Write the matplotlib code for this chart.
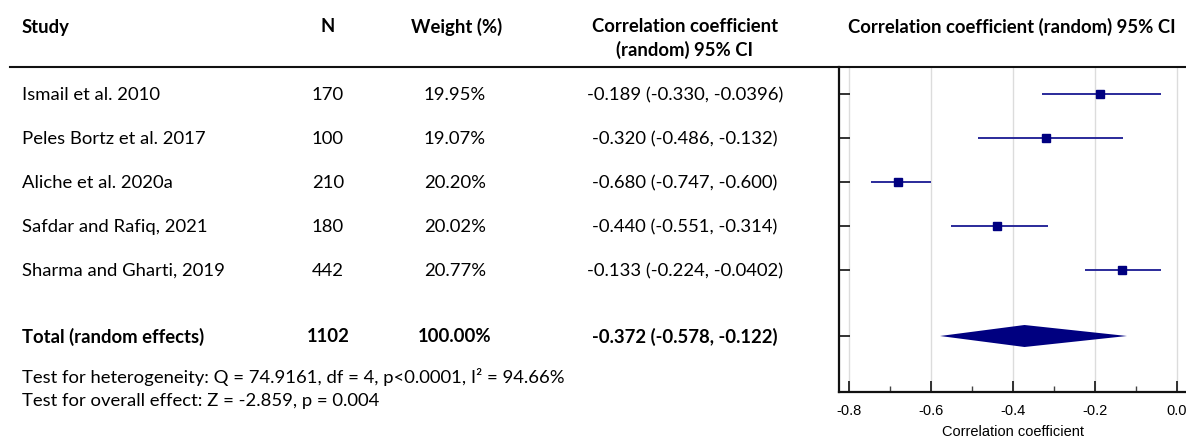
import matplotlib
matplotlib.use("Agg")
import matplotlib.pyplot as plt
import matplotlib.transforms as mtransforms
from matplotlib.lines import Line2D

# ---------------- data ----------------
studies = ["Ismail et al. 2010", "Peles Bortz et al. 2017", "Aliche et al. 2020a",
           "Safdar and Rafiq, 2021", "Sharma and Gharti, 2019"]
n_values = [170, 100, 210, 180, 442]
weights = ["19.95%", "19.07%", "20.20%", "20.02%", "20.77%"]
r_values = [-0.189, -0.320, -0.680, -0.440, -0.133]
ci_low = [-0.330, -0.486, -0.747, -0.551, -0.224]
ci_high = [-0.0396, -0.132, -0.600, -0.314, -0.0402]
ci_labels = ["-0.189 (-0.330, -0.0396)", "-0.320 (-0.486, -0.132)",
             "-0.680 (-0.747, -0.600)", "-0.440 (-0.551, -0.314)",
             "-0.133 (-0.224, -0.0402)"]
total_label = "Total (random effects)"
total_n = 1102
total_weight = "100.00%"
total_r = -0.372
total_low = -0.578
total_high = -0.122
total_ci_label = "-0.372 (-0.578, -0.122)"
heterogeneity = "Test for heterogeneity: Q = 74.9161, df = 4, p<0.0001, I\u00b2 = 94.66%"
overall = "Test for overall effect: Z = -2.859, p = 0.004"
x_ticks = [-0.8, -0.6, -0.4, -0.2, 0.0]
x_minor = [-0.7, -0.5, -0.3, -0.1]

# ---------------- layout ----------------
W, H = 1186, 439
plt.rcParams['axes.unicode_minus'] = False
fig = plt.figure(figsize=(W / 100, H / 100), dpi=100)

def fx(px):
    return px / W

def fy(py):
    return 1 - py / H

ax_left, ax_right, ax_top, ax_bottom = 839, 1186, 68, 393
ax = fig.add_axes([fx(ax_left), fy(ax_bottom), fx(ax_right - ax_left), (ax_bottom - ax_top) / H])

rows = list(range(len(studies)))
total_row = len(studies) + 0.5
ax.set_ylim(4 + (ax_bottom - 271) / 44, -(95 - ax_top) / 44)
ax.set_xlim(-0.8 - 10 / 410, 0.0 + 9 / 410)

navy = "#000080"
line_col = "#2a2a9a"
for i in rows:
    ax.plot([ci_low[i], ci_high[i]], [i, i], color=line_col, lw=1.4, solid_capstyle='butt', zorder=3)
    ax.plot([r_values[i]], [i], marker='s', ms=5.2, color=navy, zorder=4)

h = 11 / 44
ax.fill([total_low, total_r, total_high, total_r],
        [total_row, total_row - h, total_row, total_row + h],
        color=navy, lw=0, zorder=4)

ax.set_xticks(x_ticks)
ax.set_xticklabels(["-0.8", "-0.6", "-0.4", "-0.2", "0.0"])
ax.set_xticks(x_minor, minor=True)
ax.set_yticks(rows + [total_row])
ax.set_yticklabels([])
ax.tick_params(axis='both', which='major', direction='in', length=8, width=1.3, color='#222222')
ax.tick_params(axis='x', which='minor', direction='in', length=4, width=1.0, color='#444444')
ax.tick_params(axis='x', which='major', labelsize=10.5, pad=8)
for lab in ax.get_xticklabels():
    lab.set_fontfamily("Liberation Sans")
ax.grid(axis='x', which='major', color='#dcdcdc', lw=1.0, zorder=0)
ax.set_axisbelow(True)
for side in ['top', 'right']:
    ax.spines[side].set_visible(False)
for side in ['left', 'bottom']:
    ax.spines[side].set_linewidth(1.6)
    ax.spines[side].set_color('#111111')
ax.set_xlabel("Correlation coefficient", fontsize=10.5, family="Liberation Sans", labelpad=5)

# header rule
fig.add_artist(Line2D([fx(10), fx(1186)], [fy(68), fy(68)], color='#111111', lw=1.5))

# ---------------- table text ----------------
font = "Lato"
fs = 13.3
trans = mtransforms.blended_transform_factory(fig.transFigure, ax.transData)

# headers
fig.text(fx(22), fy(27), "Study", ha='left', va='center', fontsize=fs, fontweight='bold', family=font)
fig.text(fx(328), fy(27), "N", ha='center', va='center', fontsize=fs, fontweight='bold', family=font)
fig.text(fx(457), fy(27), "Weight (%)", ha='center', va='center', fontsize=fs, fontweight='bold', family=font)
fig.text(fx(685), fy(27), "Correlation coefficient", ha='center', va='center', fontsize=fs, fontweight='bold', family=font)
fig.text(fx(685), fy(50), "(random) 95% CI", ha='center', va='center', fontsize=fs, fontweight='bold', family=font)
fig.text(fx(1012), fy(27), "Correlation coefficient (random) 95% CI", ha='center', va='center',
         fontsize=fs, fontweight='bold', family=font)

for i in rows:
    fig.text(fx(22), i, studies[i], transform=trans, ha='left', va='center', fontsize=fs, family=font)
    fig.text(fx(328), i, str(n_values[i]), transform=trans, ha='center', va='center', fontsize=fs, family=font)
    fig.text(fx(455), i, weights[i], transform=trans, ha='center', va='center', fontsize=fs, family=font)
    fig.text(fx(685), i, ci_labels[i], transform=trans, ha='center', va='center', fontsize=fs, family=font)

fig.text(fx(22), total_row, total_label, transform=trans, ha='left', va='center', fontsize=fs,
         fontweight='bold', family=font)
fig.text(fx(328), total_row, str(total_n), transform=trans, ha='center', va='center', fontsize=fs,
         fontweight='bold', family=font)
fig.text(fx(455), total_row, total_weight, transform=trans, ha='center', va='center', fontsize=fs,
         fontweight='bold', family=font)
fig.text(fx(685), total_row, total_ci_label, transform=trans, ha='center', va='center', fontsize=fs,
         fontweight='bold', family=font)

fig.text(fx(22), fy(377), heterogeneity, ha='left', va='center', fontsize=fs, family=font)
fig.text(fx(22), fy(401), overall, ha='left', va='center', fontsize=fs, family=font)

fig.savefig("out.png", dpi=100, facecolor='white')
